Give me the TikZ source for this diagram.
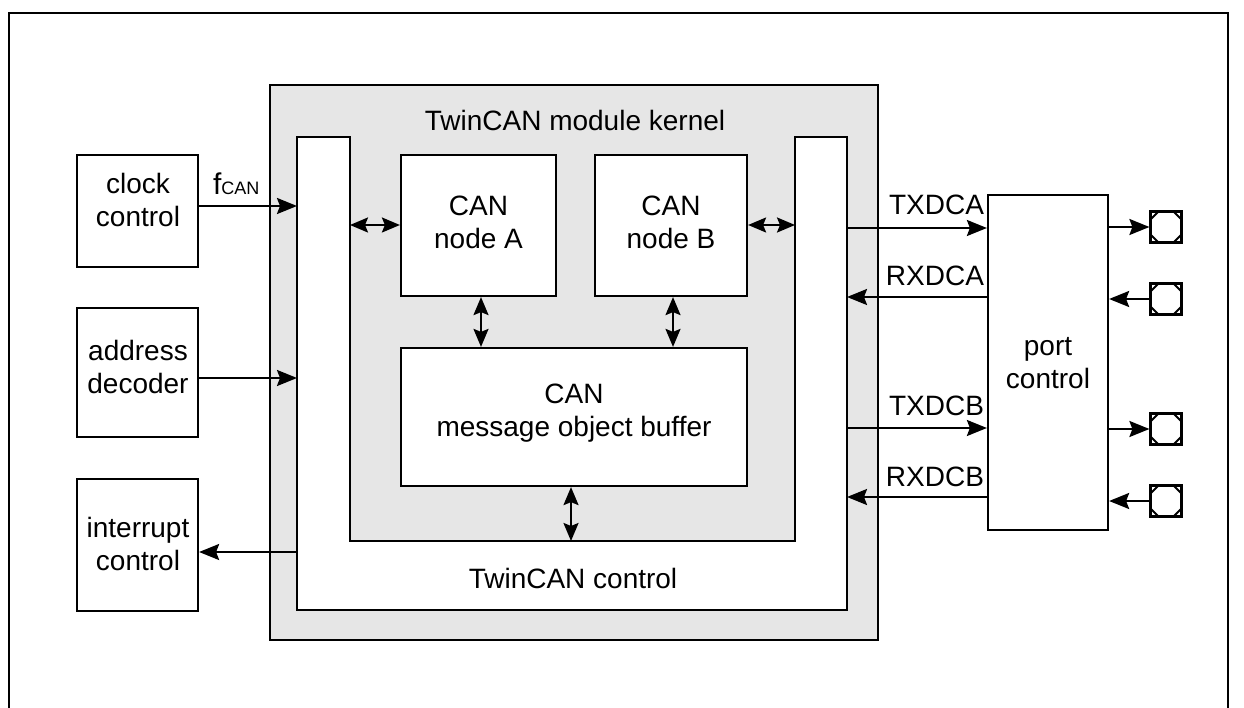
\documentclass[tikz,border=0pt]{standalone}
\usepackage{fontspec}
\setmainfont{Liberation Sans}
\usetikzlibrary{arrows.meta,calc}
\definecolor{kgray}{RGB}{230,230,230}
\begin{document}
\begin{tikzpicture}[x=1pt,y=-1pt,line width=2pt,
  box/.style={draw,fill=white,line width=2.2pt,inner sep=0pt},
  lbl/.style={font=\fontsize{28}{33}\selectfont,align=center,inner sep=0pt},
  sig/.style={font=\fontsize{28}{33}\selectfont,inner sep=0pt,anchor=base east},
  arr/.style={-{Stealth[length=20pt,width=16pt,inset=3pt]},line width=2.2pt},
  darr/.style={{Stealth[length=18pt,width=15pt,inset=3pt]}-{Stealth[length=18pt,width=15pt,inset=3pt]},line width=2.2pt},
  pin/.style={draw,line width=2.2pt,minimum size=31pt,inner sep=0pt,
    path picture={
      \draw[line width=2pt]
        ($(path picture bounding box.north west)+(8,0)$) --
        ($(path picture bounding box.north east)+(-8,0)$) --
        ($(path picture bounding box.north east)+(0,8)$) --
        ($(path picture bounding box.south east)+(0,-8)$) --
        ($(path picture bounding box.south east)+(-8,0)$) --
        ($(path picture bounding box.south west)+(8,0)$) --
        ($(path picture bounding box.south west)+(0,-8)$) --
        ($(path picture bounding box.north west)+(0,8)$) -- cycle;}}]
\useasboundingbox (0,0) rectangle (1244,708);
% outer frame
\draw[line width=2.5pt] (9,708) -- (9,13) -- (1228,13) -- (1228,708);
% kernel
\node[box,fill=kgray,minimum width=608pt,minimum height=555pt] (kernel) at (574,362.5) {};
\node[lbl] (ktitle) at (575,120) {TwinCAN module kernel};
% TwinCAN control U shape
\draw[fill=white,line width=2.2pt] (297,137) -- (350,137) -- (350,541) -- (795,541) -- (795,137) -- (847,137) -- (847,610) -- (297,610) -- cycle;
\node[lbl] (ctltext) at (573,578) {TwinCAN control};
\coordinate (uL) at (297,0);
\coordinate (uLi) at (350,0);
\coordinate (uRi) at (795,0);
\coordinate (uR) at (847,0);
\coordinate (uB) at (0,541);
% inner nodes
\node[box,minimum width=155pt,minimum height=141pt] (nodeA) at (478.5,225.5) {};
\node[lbl] at (478.5,222) {CAN\\node A};
\node[box,minimum width=152pt,minimum height=141pt] (nodeB) at (671,225.5) {};
\node[lbl] at (671,222) {CAN\\node B};
\node[box,minimum width=346pt,minimum height=138pt] (buf) at (574,417) {};
\node[lbl] at (574,413) {CAN\\message object buffer};
% left boxes
\node[box,minimum width=121pt,minimum height=112pt] (clk) at (137.5,211) {};
\node[lbl] at (138,200) {clock\\control};
\node[box,minimum width=121pt,minimum height=129pt] (adr) at (137.5,372.5) {};
\node[lbl] at (138,367) {address\\decoder};
\node[box,minimum width=121pt,minimum height=132pt] (irq) at (137.5,545) {};
\node[lbl] at (138,544) {interrupt\\control};
% port control
\node[box,minimum width=120pt,minimum height=335pt] (port) at (1048,362.5) {};
\node[lbl] at (1048,363) {port\\control};
% pins
\node[pin] (p1) at (1166,227) {};
\node[pin] (p2) at (1166,299) {};
\node[pin] (p3) at (1166,429) {};
\node[pin] (p4) at (1166,501) {};
% level coordinates
\coordinate (yf) at (0,206);
\coordinate (ya) at (0,378);
\coordinate (yi) at (0,552);
\coordinate (yn) at (0,225);
\coordinate (ytA) at (0,228);
\coordinate (yrA) at (0,297);
\coordinate (ytB) at (0,428);
\coordinate (yrB) at (0,497);
% left connectors
\draw[arr] (clk.east |- yf) -- (uL |- yf);
\node[inner sep=0pt,anchor=base west] (fcan) at (212,195) {\fontsize{30}{33}\selectfont f\fontsize{18}{20}\selectfont CAN};
\draw[arr] (adr.east |- ya) -- (uL |- ya);
\draw[arr] (uL |- yi) -- (irq.east |- yi);
% inner connectors
\draw[darr] (uLi |- yn) -- (nodeA.west |- yn);
\draw[darr] (nodeB.east |- yn) -- (uRi |- yn);
\draw[darr] ($(nodeA.south)+(2.5,0)$) -- ($(buf.north)+(-93,0)$);
\draw[darr] ($(nodeB.south)+(2,0)$) -- ($(buf.north)+(99,0)$);
\draw[darr] ($(buf.south)+(-3,0)$) -- ($(uB)+(571,0)$);
% signals
\draw[arr] (uR |- ytA) -- (port.west |- ytA);
\node[sig] at (985,215) {TXDCA};
\draw[arr] (port.west |- yrA) -- (uR |- yrA);
\node[sig] at (985,286) {RXDCA};
\draw[arr] (uR |- ytB) -- (port.west |- ytB);
\node[sig] at (985,415) {TXDCB};
\draw[arr] (port.west |- yrB) -- (uR |- yrB);
\node[sig] at (985,486) {RXDCB};
% pins connectors
\draw[arr] (port.east |- p1) -- (p1.west);
\draw[arr] (p2.west) -- (port.east |- p2);
\draw[arr] (port.east |- p3) -- (p3.west);
\draw[arr] (p4.west) -- (port.east |- p4);
\end{tikzpicture}
\end{document}
